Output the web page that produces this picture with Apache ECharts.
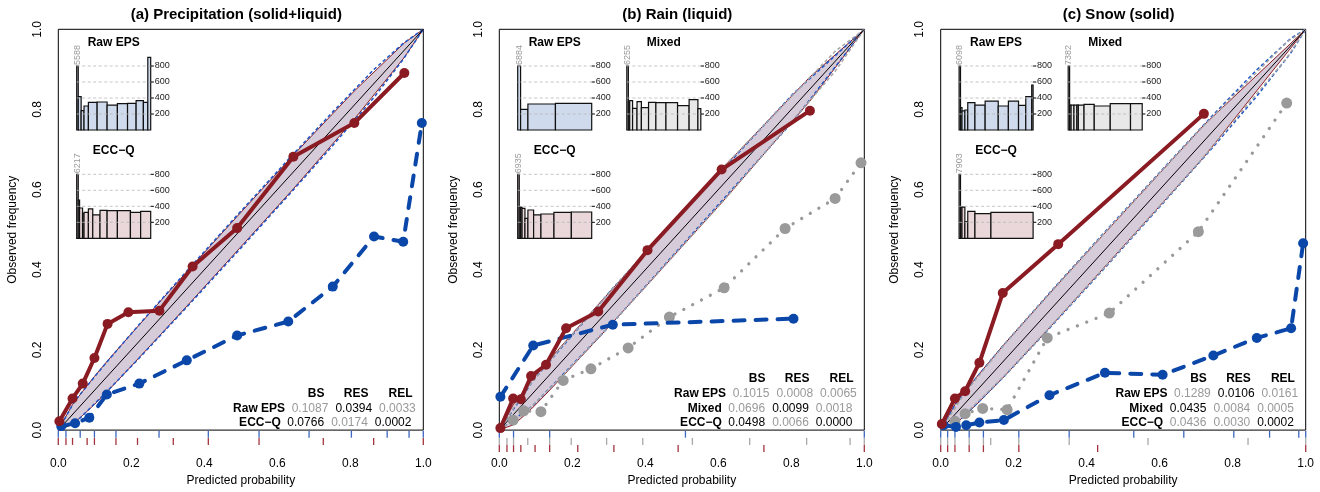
<!DOCTYPE html>
<html>
<head>
<meta charset="utf-8">
<title>Reliability diagrams</title>
<script src="https://cdn.jsdelivr.net/npm/echarts@6.0.0/dist/echarts.min.js"></script>
<style>
  html, body { margin: 0; padding: 0; background: #ffffff; }
  #chart { width: 1320px; height: 492px; }
</style>
</head>
<body>
<div id="chart"></div>
<script>
// ---------------- data ----------------
const panelTitles = ['(a) Precipitation (solid+liquid)', '(b) Rain (liquid)', '(c) Snow (solid)'];
const histTicks = [200, 400, 600, 800];
const scoreNames = ['BS', 'RES', 'REL'];

// (a) precipitation (solid+liquid)
const aRawP = [0.008, 0.046, 0.085, 0.133, 0.222, 0.352, 0.490, 0.630, 0.752, 0.865, 0.945, 0.996];
const aRawO = [0.010, 0.017, 0.031, 0.089, 0.116, 0.174, 0.236, 0.271, 0.358, 0.483, 0.470, 0.766];
const aEccP = [0.003, 0.039, 0.067, 0.099, 0.135, 0.192, 0.277, 0.368, 0.490, 0.644, 0.811, 0.948];
const aEccO = [0.022, 0.079, 0.116, 0.180, 0.265, 0.294, 0.298, 0.408, 0.504, 0.682, 0.766, 0.891];
const aRawBreaks = [0, 0.021, 0.060, 0.099, 0.158, 0.276, 0.411, 0.550, 0.687, 0.803, 0.901, 0.961, 1];
const aRawCounts = [5588, 417, 242, 300, 346, 350, 312, 329, 333, 367, 346, 908];
const aEccBreaks = [0, 0.021, 0.039, 0.079, 0.099, 0.158, 0.217, 0.315, 0.411, 0.550, 0.726, 0.864, 1];
const aEccCounts = [6217, 479, 379, 310, 325, 367, 292, 350, 346, 346, 325, 337];
const aBandP  = [0, 0.039, 0.067, 0.099, 0.135, 0.192, 0.277, 0.368, 0.490, 0.644, 0.811, 0.948, 1];
const aBandLo = [0, 0.014, 0.037, 0.064, 0.097, 0.152, 0.235, 0.325, 0.447, 0.602, 0.776, 0.930, 1];
const aBandHi = [0, 0.064, 0.097, 0.134, 0.173, 0.232, 0.319, 0.411, 0.533, 0.686, 0.846, 0.966, 1];
const aRawBandP  = [0, 0.046, 0.133, 0.222, 0.352, 0.490, 0.630, 0.752, 0.865, 0.945, 1];
const aRawBandLo = [0, 0.018, 0.096, 0.180, 0.307, 0.444, 0.585, 0.710, 0.830, 0.925, 1];
const aRawBandHi = [0, 0.074, 0.170, 0.264, 0.397, 0.536, 0.675, 0.794, 0.900, 0.965, 1];
const aScoreRows = ['Raw EPS', 'ECC\u2212Q'];
const aScoreVals = [['0.1087', '0.0394', '0.0033'], ['0.0766', '0.0174', '0.0002']];
const aScoreBest = [[0, 1, 0], [1, 0, 1]];

// (b) rain (liquid)
const bRawP = [0.003, 0.093, 0.311, 0.806];
const bRawO = [0.083, 0.211, 0.263, 0.278];
const bMixP = [0.038, 0.067, 0.114, 0.175, 0.251, 0.353, 0.466, 0.616, 0.783, 0.920, 0.991];
const bMixO = [0.025, 0.048, 0.046, 0.124, 0.153, 0.205, 0.282, 0.355, 0.503, 0.578, 0.667];
const bEccP = [0.003, 0.038, 0.059, 0.087, 0.128, 0.183, 0.271, 0.406, 0.609, 0.851];
const bEccO = [0.005, 0.079, 0.077, 0.135, 0.163, 0.254, 0.296, 0.449, 0.650, 0.797];
const bRawBreaks = [0, 0.039, 0.138, 0.510, 1];
const bRawCounts = [6884, 258, 325, 333];
const bMixBreaks = [0, 0.021, 0.039, 0.078, 0.138, 0.197, 0.294, 0.393, 0.529, 0.686, 0.842, 0.961, 1];
const bMixCounts = [6255, 350, 367, 271, 354, 279, 346, 342, 342, 304, 379, 267];
const bEccBreaks = [0, 0.021, 0.039, 0.059, 0.098, 0.138, 0.215, 0.314, 0.490, 0.725, 1];
const bEccCounts = [6935, 390, 387, 375, 250, 354, 292, 304, 325, 329];
const bBandP  = [0, 0.038, 0.059, 0.087, 0.128, 0.183, 0.271, 0.406, 0.609, 0.851, 1];
const bBandLo = [0, 0.013, 0.029, 0.052, 0.090, 0.143, 0.229, 0.363, 0.567, 0.821, 1];
const bBandHi = [0, 0.063, 0.089, 0.122, 0.166, 0.223, 0.313, 0.449, 0.651, 0.881, 1];
const bRawBandP  = [0, 0.093, 0.311, 0.806, 1];
const bRawBandLo = [0, 0.062, 0.268, 0.772, 1];
const bRawBandHi = [0, 0.124, 0.354, 0.840, 1];
const bMixBandP  = [0, 0.067, 0.175, 0.353, 0.616, 0.920, 1];
const bMixBandLo = [0, 0.040, 0.137, 0.310, 0.574, 0.895, 1];
const bMixBandHi = [0, 0.094, 0.213, 0.396, 0.658, 0.945, 1];
const bScoreRows = ['Raw EPS', 'Mixed', 'ECC\u2212Q'];
const bScoreVals = [['0.1015', '0.0008', '0.0065'], ['0.0696', '0.0099', '0.0018'], ['0.0498', '0.0066', '0.0000']];
const bScoreBest = [[0, 0, 0], [0, 1, 0], [1, 0, 1]];

// (c) snow (solid)
const cRawP = [0.008, 0.042, 0.070, 0.106, 0.173, 0.298, 0.450, 0.608, 0.747, 0.866, 0.960, 0.993];
const cRawO = [0.012, 0.008, 0.012, 0.019, 0.025, 0.087, 0.143, 0.138, 0.186, 0.230, 0.254, 0.466];
const cMixP = [0.039, 0.067, 0.115, 0.182, 0.292, 0.462, 0.706, 0.948];
const cMixO = [0.022, 0.041, 0.054, 0.051, 0.230, 0.292, 0.495, 0.816];
const cEccP = [0.003, 0.039, 0.067, 0.106, 0.170, 0.322, 0.721];
const cEccO = [0.015, 0.079, 0.097, 0.168, 0.342, 0.464, 0.789];
const cRawBreaks = [0, 0.019, 0.039, 0.078, 0.117, 0.214, 0.352, 0.529, 0.666, 0.803, 0.901, 0.981, 1];
const cRawCounts = [6098, 280, 240, 250, 342, 312, 362, 300, 362, 308, 417, 562];
const cMixBreaks = [0, 0.019, 0.039, 0.078, 0.117, 0.137, 0.214, 0.352, 0.568, 0.842, 1];
const cMixCounts = [7382, 310, 310, 310, 310, 310, 320, 300, 329, 329];
const cEccBreaks = [0, 0.019, 0.039, 0.078, 0.117, 0.214, 0.430, 1];
const cEccCounts = [7903, 390, 390, 208, 337, 308, 325];
const cBandP  = [0, 0.039, 0.067, 0.106, 0.170, 0.322, 0.721, 1];
const cBandLo = [0, 0.014, 0.037, 0.071, 0.130, 0.279, 0.681, 1];
const cBandHi = [0, 0.064, 0.097, 0.141, 0.210, 0.365, 0.761, 1];
const cRawBandP  = [0, 0.042, 0.106, 0.173, 0.298, 0.450, 0.608, 0.747, 0.866, 0.960, 1];
const cRawBandLo = [0, 0.016, 0.072, 0.133, 0.254, 0.405, 0.565, 0.707, 0.833, 0.942, 1];
const cRawBandHi = [0, 0.068, 0.140, 0.213, 0.342, 0.495, 0.651, 0.787, 0.899, 0.978, 1];
const cMixBandP  = [0, 0.067, 0.182, 0.292, 0.462, 0.706, 0.948, 1];
const cMixBandLo = [0, 0.040, 0.142, 0.250, 0.419, 0.666, 0.928, 1];
const cMixBandHi = [0, 0.094, 0.222, 0.334, 0.505, 0.746, 0.968, 1];
const cScoreRows = ['Raw EPS', 'Mixed', 'ECC\u2212Q'];
const cScoreVals = [['0.1289', '0.0106', '0.0161'], ['0.0435', '0.0084', '0.0005'], ['0.0436', '0.0030', '0.0002']];
const cScoreBest = [[0, 1, 0], [1, 0, 0], [0, 0, 1]];

// ---------------- styling / layout ----------------
const FONT = '"Liberation Sans", Arial, Helvetica, sans-serif';
const RED = '#8b1b23', BLUE = '#0b47a9', GREY = '#9a9a9a';
const BAND_FILL = '#d6cbd9';
const HIST_FILL = { raw: '#cfdaec', mix: '#e8e8e8', ecc: '#e9d7d9' };
const RUG_COL = { raw: '#3d68c0', mix: '#a8a8a8', ecc: '#a3343c' };
const HIST_LIMIT = 1000;       // counts above this are drawn clipped...
const HIST_CAP = 800;          // ...at this height and labelled with their value
const HIST_MAX = 925;
const panelLeft = [58.3, 499.3, 940.7];
const plotTop = 29.3, plotW = 365, plotH = 402.4;
const histW = 74, histH = 74;
const histBase = [130, 238.3];
const histOffset = { raw: 18.4, mix: 127.5, ecc: 18.4 };
const RUG_STEP = 7.2, RUG_LEN = 7;

const panels = [
  { raw: [aRawP, aRawO, aRawBreaks, aRawCounts], mix: null, ecc: [aEccP, aEccO, aEccBreaks, aEccCounts],
    band: [aBandP, aBandLo, aBandHi], rawBand: [aRawBandP, aRawBandLo, aRawBandHi], mixBand: null,
    rows: aScoreRows, vals: aScoreVals, best: aScoreBest },
  { raw: [bRawP, bRawO, bRawBreaks, bRawCounts], mix: [bMixP, bMixO, bMixBreaks, bMixCounts], ecc: [bEccP, bEccO, bEccBreaks, bEccCounts],
    band: [bBandP, bBandLo, bBandHi], rawBand: [bRawBandP, bRawBandLo, bRawBandHi], mixBand: [bMixBandP, bMixBandLo, bMixBandHi],
    rows: bScoreRows, vals: bScoreVals, best: bScoreBest },
  { raw: [cRawP, cRawO, cRawBreaks, cRawCounts], mix: [cMixP, cMixO, cMixBreaks, cMixCounts], ecc: [cEccP, cEccO, cEccBreaks, cEccCounts],
    band: [cBandP, cBandLo, cBandHi], rawBand: [cRawBandP, cRawBandLo, cRawBandHi], mixBand: [cMixBandP, cMixBandLo, cMixBandHi],
    rows: cScoreRows, vals: cScoreVals, best: cScoreBest }
];

const zip = (a, b) => a.map((v, i) => [v, b[i]]);

// ---------------- series builders ----------------
function bandSeries(gi, p, lo, hi) {
  return {
    type: 'custom', xAxisIndex: gi, yAxisIndex: gi, z: 1, silent: true, data: [[0, 0]],
    renderItem(params, api) {
      const up = p.map((x, i) => api.coord([x, hi[i]]));
      const dn = p.map((x, i) => api.coord([x, lo[i]])).reverse();
      return { type: 'polygon', shape: { points: up.concat(dn) },
        style: { fill: BAND_FILL, stroke: RED, lineWidth: 1 } };
    }
  };
}
function edgeLine(gi, p, v, color) {
  return { type: 'line', xAxisIndex: gi, yAxisIndex: gi, z: 2, silent: true, symbol: 'none',
    data: zip(p, v), lineStyle: { color, width: 1.5, type: [3.5, 2.5] } };
}
function rugSeries(gi, breaks, row, color) {
  return {
    type: 'custom', xAxisIndex: gi, yAxisIndex: gi, z: 2, clip: false, silent: true,
    data: breaks.map(b => [b, 0]),
    renderItem(params, api) {
      const pt = api.coord([api.value(0), 0]);
      const y0 = pt[1] + 0.6 + row * RUG_STEP;
      return { type: 'line', shape: { x1: pt[0], y1: y0, x2: pt[0], y2: y0 + RUG_LEN },
        style: { stroke: color, lineWidth: 1.3 } };
    }
  };
}
function histSeries(gi, breaks, counts, fill) {
  return {
    type: 'custom', xAxisIndex: gi, yAxisIndex: gi, z: 3, clip: false, silent: true,
    encode: { x: [0, 1], y: 2 },
    data: counts.map((c, i) => [breaks[i], breaks[i + 1], c]),
    renderItem(params, api) {
      const n = api.value(2);
      const clipped = n > HIST_LIMIT;
      const shown = clipped ? HIST_CAP : n;
      const p0 = api.coord([api.value(0), 0]);
      const p1 = api.coord([api.value(1), shown]);
      const kids = [{ type: 'rect', shape: { x: p0[0], y: p1[1], width: p1[0] - p0[0], height: p0[1] - p1[1] },
        style: { fill, stroke: '#111', lineWidth: 1.2 } }];
      if (clipped) {
        kids.push({ type: 'text', x: (p0[0] + p1[0]) / 2, y: p1[1] - 1, rotation: Math.PI / 2,
          style: { text: String(n), fill: '#9a9a9a', font: '9px ' + FONT, align: 'left', verticalAlign: 'middle' } });
      }
      return { type: 'group', children: kids };
    }
  };
}
// dashed reference lines of the inset plus its tick marks on the right side
function histGridSeries(gi) {
  return {
    type: 'custom', xAxisIndex: gi, yAxisIndex: gi, z: 4, clip: false, silent: true,
    encode: { y: 0 },
    data: histTicks.map(v => [v]),
    renderItem(params, api) {
      const a = api.coord([0, api.value(0)]), b = api.coord([1, api.value(0)]);
      return { type: 'group', children: [
        { type: 'line', shape: { x1: a[0], y1: a[1], x2: b[0], y2: b[1] },
          style: { stroke: '#b8b8b8', lineWidth: 0.8, lineDash: [3, 2.5] } },
        { type: 'line', shape: { x1: b[0], y1: b[1], x2: b[0] + 3.2, y2: b[1] },
          style: { stroke: '#000', lineWidth: 1 } }
      ] };
    }
  };
}
function curve(gi, p, o, color, width, dash, size, z) {
  return { type: 'line', xAxisIndex: gi, yAxisIndex: gi, z, clip: false, silent: true,
    data: zip(p, o), symbol: 'circle', symbolSize: size, showSymbol: true,
    itemStyle: { color }, lineStyle: { color, width, type: dash, cap: 'round', join: 'round' } };
}

// ---------------- assemble ----------------
const grid = [], xAxis = [], yAxis = [], series = [], graphic = [];

panels.forEach((pn, k) => {
  grid.push({ left: panelLeft[k], top: plotTop, width: plotW, height: plotH, show: true,
    borderColor: '#000', borderWidth: 1, backgroundColor: 'transparent' });
  xAxis.push({ type: 'value', gridIndex: k, min: 0, max: 1, interval: 0.2,
    axisLine: { show: false }, axisTick: { show: false }, splitLine: { show: false },
    axisLabel: { formatter: v => v.toFixed(1), margin: 28, fontSize: 12, color: '#000', fontFamily: FONT },
    name: 'Predicted probability', nameLocation: 'middle', nameGap: 44,
    nameTextStyle: { fontSize: 12, color: '#000', fontFamily: FONT } });
  yAxis.push({ type: 'value', gridIndex: k, min: 0, max: 1, interval: 0.2,
    axisLine: { show: false }, axisTick: { show: false }, splitLine: { show: false },
    axisLabel: { formatter: v => v.toFixed(1), rotate: 90, margin: 15, fontSize: 12, color: '#000', fontFamily: FONT },
    name: 'Observed frequency', nameLocation: 'middle', nameGap: 40, nameRotate: 90,
    nameTextStyle: { fontSize: 12, color: '#000', fontFamily: FONT } });
});

panels.forEach((pn, k) => {
  series.push(bandSeries(k, pn.band[0], pn.band[1], pn.band[2]));
  series.push(edgeLine(k, pn.rawBand[0], pn.rawBand[1], '#1f56c8'));
  series.push(edgeLine(k, pn.rawBand[0], pn.rawBand[2], '#1f56c8'));
  if (pn.mixBand) {
    series.push(edgeLine(k, pn.mixBand[0], pn.mixBand[1], '#a6a6a6'));
    series.push(edgeLine(k, pn.mixBand[0], pn.mixBand[2], '#a6a6a6'));
  }
  series.push({ type: 'line', xAxisIndex: k, yAxisIndex: k, z: 3, silent: true, symbol: 'none',
    data: [[0, 0], [1, 1]], lineStyle: { color: '#000', width: 1 } });
  if (pn.mix) series.push(curve(k, pn.mix[0], pn.mix[1], GREY, 3.3, [0.01, 10], 11, 4));
  series.push(curve(k, pn.raw[0], pn.raw[1], BLUE, 4, [11, 11], 10, 5));
  series.push(curve(k, pn.ecc[0], pn.ecc[1], RED, 4, 'solid', 10, 6));

  // rug of bin breaks below the plot
  let row = 0;
  series.push(rugSeries(k, pn.raw[2], row++, RUG_COL.raw));
  if (pn.mix) series.push(rugSeries(k, pn.mix[2], row++, RUG_COL.mix));
  series.push(rugSeries(k, pn.ecc[2], row++, RUG_COL.ecc));

  // panel title
  graphic.push({ type: 'text', x: panelLeft[k] + plotW / 2 - 4.5, y: 15,
    style: { text: panelTitles[k], font: 'bold 15px ' + FONT, fill: '#000', align: 'center', verticalAlign: 'middle' } });

  // score table
  const right = panelLeft[k] + plotW, bottom = plotTop + plotH;
  const nRows = pn.rows.length;
  const rowY = pn.rows.map((r, i) => bottom - 9.2 - (nRows - 1 - i) * 14.3);
  const headX = [-107.2, -67.2, -22.8], valX = [-117.6, -73.8, -30.2];
  scoreNames.forEach((s, j) => graphic.push({ type: 'text', x: right + headX[j], y: rowY[0] - 14.8,
    style: { text: s, font: 'bold 12px ' + FONT, fill: '#000', align: 'center', verticalAlign: 'middle' } }));
  pn.rows.forEach((r, i) => {
    const shift = r === 'Raw EPS' ? 4.3 : 0;
    graphic.push({ type: 'text', x: right - 142.5 + shift, y: rowY[i],
      style: { text: r, font: 'bold 12px ' + FONT, fill: '#000', align: 'right', verticalAlign: 'middle' } });
    pn.vals[i].forEach((v, j) => graphic.push({ type: 'text', x: right + valX[j] + shift, y: rowY[i],
      style: { text: v, font: '12px ' + FONT, fill: pn.best[i][j] ? '#000' : '#999999', align: 'center', verticalAlign: 'middle' } }));
  });
});

// inset histograms
let gi = 3;
panels.forEach((pn, k) => {
  const insets = [['raw', 'Raw EPS', 0], ['ecc', 'ECC\u2212Q', 1]];
  if (pn.mix) insets.push(['mix', 'Mixed', 0]);
  insets.forEach(([key, label, r]) => {
    const left = panelLeft[k] + histOffset[key];
    const base = histBase[r];
    grid.push({ left, top: base - histH, width: histW, height: histH, show: false });
    xAxis.push({ type: 'value', gridIndex: gi, min: 0, max: 1, show: false });
    yAxis.push({ type: 'value', gridIndex: gi, min: 0, max: HIST_MAX, interval: 200, position: 'right',
      axisLine: { show: false }, splitLine: { show: false }, axisTick: { show: false },
      axisLabel: { customValues: histTicks, margin: 4, fontSize: 9, color: '#222', fontFamily: FONT } });
    series.push(histSeries(gi, pn[key][2], pn[key][3], HIST_FILL[key]));
    series.push(histGridSeries(gi));
    graphic.push({ type: 'text', x: left + histW / 2, y: base - 87.7,
      style: { text: label, font: 'bold 12px ' + FONT, fill: '#000', align: 'center', verticalAlign: 'middle' } });
    gi++;
  });
});

const chart = echarts.init(document.getElementById('chart'), null, { renderer: 'canvas' });
chart.setOption({ animation: false, backgroundColor: '#fff', grid, xAxis, yAxis, series, graphic });
</script>
</body>
</html>
